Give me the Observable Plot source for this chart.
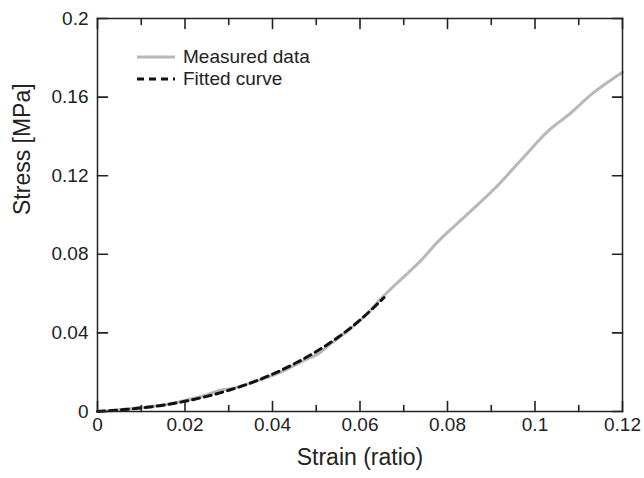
<!DOCTYPE html>
<html>
<head>
<meta charset="utf-8">
<script src="https://cdn.jsdelivr.net/npm/d3@7"></script>
<script src="https://cdn.jsdelivr.net/npm/@observablehq/plot@0.6"></script>
<style>
  body { margin: 0; background: #fff; }
  #wrap { position: relative; width: 644px; height: 478px; font-family: "Liberation Sans", Arial, sans-serif; color: #222; }
  #chart svg { font-family: "Liberation Sans", Arial, sans-serif; }
  #legend { position: absolute; left: 137px; top: 46px; font-size: 19px; color: #222; line-height: 22px; }
  .item { display: flex; align-items: center; height: 22px; }
  .item svg { margin-right: 8px; }
</style>
</head>
<body>
<div id="wrap">
  <div id="chart"></div>
  <div id="legend">
    <div class="item"><svg width="38" height="6"><path d="M0,3H38" stroke="#b8b8b8" stroke-width="3"/></svg>Measured data</div>
    <div class="item"><svg width="38" height="6"><path d="M0,3H38" stroke="#111" stroke-width="3" stroke-dasharray="7,5"/></svg>Fitted curve</div>
  </div>
</div>
<script>
// Measured data (strain ratio vs stress MPa)
const measStrain = [0, 0.003, 0.006, 0.01, 0.015, 0.02, 0.025, 0.0278, 0.031, 0.035, 0.0419, 0.047, 0.051, 0.0533, 0.058, 0.0615, 0.0655, 0.0708, 0.0739, 0.0777, 0.0845, 0.0922, 0.0967, 0.1036, 0.1074, 0.1135, 0.12];
const measStress = [0, 0.0005, 0.0012, 0.002, 0.0033, 0.0056, 0.0085, 0.0107, 0.0118, 0.0145, 0.02, 0.0258, 0.0302, 0.0345, 0.0425, 0.0495, 0.059, 0.0702, 0.0768, 0.0862, 0.1003, 0.1167, 0.1277, 0.1439, 0.1505, 0.1625, 0.1727];
// Fitted curve
const fitStrain = [0, 0.005, 0.01, 0.015, 0.02, 0.025, 0.03, 0.035, 0.04, 0.045, 0.05, 0.055, 0.06, 0.0655];
const fitStress = [0, 0.0008, 0.0018, 0.0032, 0.0052, 0.0077, 0.0108, 0.0145, 0.019, 0.0243, 0.0305, 0.0378, 0.0465, 0.058];
// Axes
const xDomain = [0, 0.12];
const yDomain = [0, 0.2];
const xMajor = [0, 0.02, 0.04, 0.06, 0.08, 0.1, 0.12];
const xMinor = [0.01, 0.03, 0.05, 0.07, 0.09, 0.11];
const yMajor = [0, 0.04, 0.08, 0.12, 0.16, 0.2];

const measured = measStrain.map((x, i) => ({x, y: measStress[i]}));
const fitted = fitStrain.map((x, i) => ({x, y: fitStress[i]}));
const axisColor = "#222";

// straight tick shape for vector marks (drawn as a path)
const tickShape = { draw(context, l) { context.moveTo(0, 0); context.lineTo(0, -l); } };
const tick = (data, opts) => Plot.vector(data, { shape: tickShape, anchor: "start", stroke: axisColor, strokeWidth: 1.6, ...opts });

const chart = Plot.plot({
  width: 644,
  height: 478,
  marginLeft: 97,
  marginRight: 22,
  marginTop: 18,
  marginBottom: 67,
  x: { domain: xDomain },
  y: { domain: yDomain },
  marks: [
    Plot.line(measured, { x: "x", y: "y", stroke: "#b8b8b8", strokeWidth: 3, curve: "monotone-x" }),
    Plot.line(fitted, { x: "x", y: "y", stroke: "#111", strokeWidth: 3, strokeDasharray: "7,5", curve: "monotone-x" }),
    Plot.frame({ stroke: axisColor, strokeWidth: 1.5 }),
    // inward ticks: bottom, top, left, right
    tick(xMajor, { x: d => d, y: () => yDomain[0], length: 10, rotate: 0 }),
    tick(xMinor, { x: d => d, y: () => yDomain[0], length: 6, rotate: 0 }),
    tick(xMajor, { x: d => d, y: () => yDomain[1], length: 10, rotate: 180 }),
    tick(xMinor, { x: d => d, y: () => yDomain[1], length: 6, rotate: 180 }),
    tick(yMajor, { x: () => xDomain[0], y: d => d, length: 10, rotate: 90 }),
    tick(yMajor, { x: () => xDomain[1], y: d => d, length: 10, rotate: -90 }),
    // tick labels
    Plot.axisX(xMajor, { anchor: "bottom", tickSize: 0, tickPadding: 6, tickFormat: d => String(d), fontSize: 19, label: null }),
    Plot.axisY(yMajor, { anchor: "left", tickSize: 0, tickPadding: 9, tickFormat: d => String(d), fontSize: 19, label: null }),
    Plot.text(["Strain (ratio)"], { text: d => d, frameAnchor: "bottom", dy: 53, fontSize: 23, fill: "#222" }),
    Plot.text(["Stress [MPa]"], { text: d => d, frameAnchor: "left", dx: -75, rotate: -90, fontSize: 23, fill: "#222" })
  ]
});
document.getElementById("chart").appendChild(chart);
</script>
</body>
</html>
